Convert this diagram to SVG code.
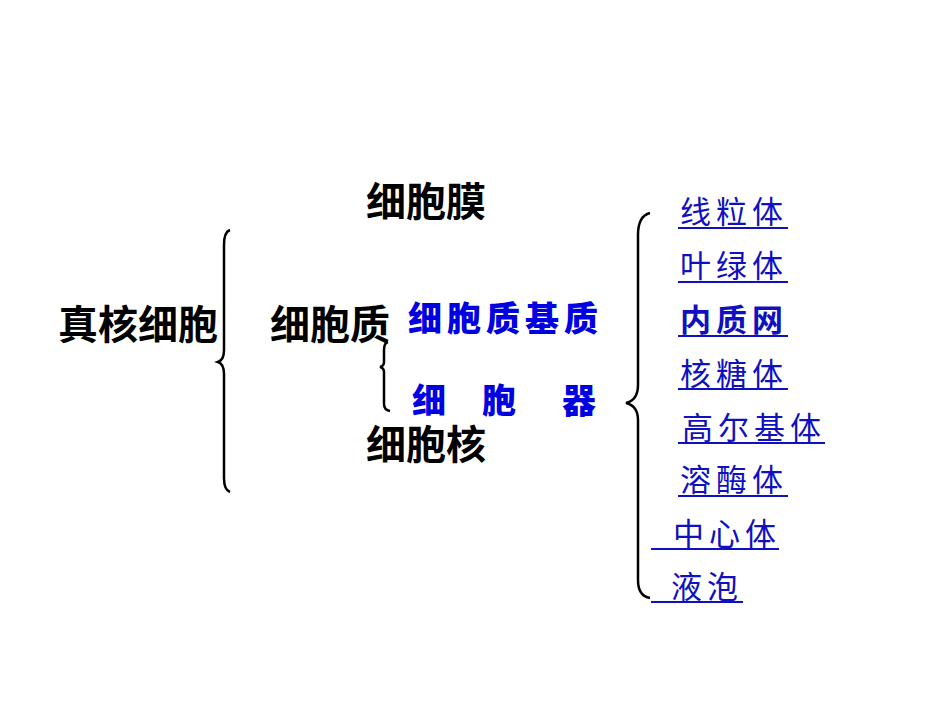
<svg xmlns="http://www.w3.org/2000/svg" width="950" height="713" viewBox="0 0 950 713">
<style>
.k{font-family:"Liberation Sans","Noto Sans CJK SC",sans-serif;font-size:40px;font-weight:bold;fill:#000}
.b{font-family:"Noto Sans CJK SC",sans-serif;font-size:34px;font-weight:900;fill:#0000e0}
.l{font-family:"Noto Sans CJK SC",sans-serif;font-size:31px;fill:#1010c0;letter-spacing:5px}
.u{stroke:#1010c0;stroke-width:2}
.br{fill:none;stroke:#000;stroke-width:2.5}
</style>
<rect width="950" height="713" fill="#fff"/>
<g id="n_zhenhe"><text class="k" x="58" y="339">真核细胞</text></g>
<g id="n_mo"><text class="k" x="366" y="216">细胞膜</text></g>
<g id="n_zhi"><text class="k" x="270" y="339">细胞质</text></g>
<g id="n_he"><text class="k" x="366" y="459">细胞核</text></g>
<g id="n_jizhi"><text class="b" x="408" y="331" letter-spacing="5">细胞质基质</text></g>
<g id="n_qi"><text class="b" x="412" y="413">细</text><text class="b" x="482" y="413">胞</text><text class="b" x="562" y="413">器</text></g>
<g id="list">
<text class="l" x="680" y="223">线粒体</text><line class="u" x1="678" y1="228" x2="788" y2="228"/>
<text class="l" x="680" y="277">叶绿体</text><line class="u" x1="678" y1="282" x2="788" y2="282"/>
<text class="l" x="680" y="331" font-weight="bold">内质网</text><line class="u" x1="678" y1="336" x2="788" y2="336"/>
<text class="l" x="680" y="385">核糖体</text><line class="u" x1="678" y1="389" x2="788" y2="389"/>
<text class="l" x="682" y="439">高尔基体</text><line class="u" x1="678" y1="443" x2="825" y2="443"/>
<text class="l" x="680" y="491">溶酶体</text><line class="u" x1="678" y1="496" x2="788" y2="496"/>
<text class="l" x="673" y="545">中心体</text><line class="u" x1="651" y1="549" x2="779" y2="549"/>
<text class="l" x="671" y="598">液泡</text><line class="u" x1="651" y1="602" x2="743" y2="602"/>
</g>
<g id="connectors">
<path class="br" d="M230,230 Q224,232 224,245 L224,350 Q224,360 218,362 Q224,364 224,374 L224,478 Q224,490 230,492"/>
<path class="br" stroke-width="2" d="M388,342 Q384,343 384,350 L384,362 Q384,366 380,367 Q384,368 384,372 L384,404 Q384,410 390,411"/>
<path class="br" stroke-width="1" d="M650,213 Q638,216 638,235 L638,385 Q638,400 626,403 Q638,406 638,420 L638,580 Q638,596 650,598"/>
</g>
</svg>
